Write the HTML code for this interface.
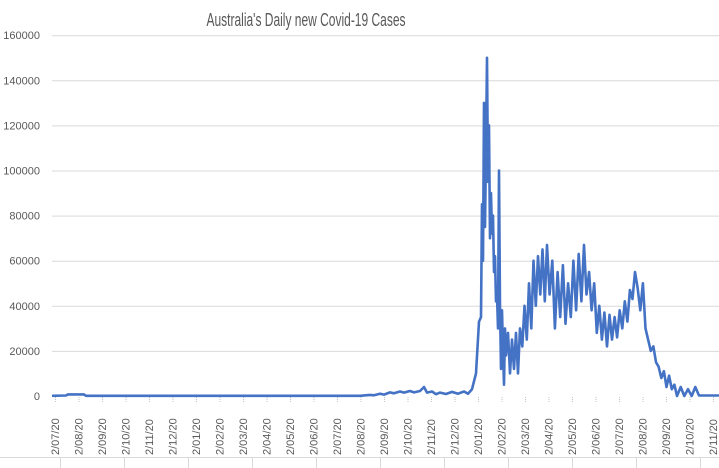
<!DOCTYPE html>
<html><head><meta charset="utf-8"><style>
html,body{margin:0;padding:0;background:#fff;width:719px;height:468px;overflow:hidden}
svg{display:block}
text{font-family:"Liberation Sans",sans-serif;fill:#595959}
</style></head><body>
<svg id="s" width="719" height="468" viewBox="0 0 719 468">
<text x="306" y="26" font-size="18" text-anchor="middle" textLength="199" lengthAdjust="spacingAndGlyphs">Australia's Daily new Covid-19 Cases</text>
<g id="grid" stroke="#d9d9d9" stroke-width="1"></g>
<g id="yl" font-size="11" text-anchor="end"></g>
<g id="xl" font-size="11"></g>
<line x1="0" y1="457.5" x2="719" y2="457.5" stroke="#d9d9d9"/>
<g id="sep" stroke="#d9d9d9"></g>
<path id="p" fill="none" stroke="#4472c4" stroke-width="2.6" stroke-linejoin="round"/>
</svg>
<script>
var NS="http://www.w3.org/2000/svg";
function el(t,a,p,txt){var e=document.createElementNS(NS,t);for(var k in a)e.setAttribute(k,a[k]);if(txt!=null)e.textContent=txt;document.getElementById(p).appendChild(e);return e;}
for(var i=0;i<=8;i++){var y=396-i*45.1;
 if(i>0)el("line",{x1:52,x2:719,y1:y+0.5,y2:y+0.5},"grid");
 el("text",{x:40,y:y+4},"yl",String(i*20000));}
var months=["07","08","09","10","11","12","01","02","03","04","05","06"];
for(var m=0;m<=28;m++){var x=55+m*23.5;
 el("text",{x:0,y:0,transform:"translate("+(x+4)+",455) rotate(-90)"},"xl","2/"+months[m%12]+"/20");
 el("line",{x1:x+0.5,x2:x+0.5,y1:397,y2:402,stroke:"#bfbfbf","stroke-dasharray":"1,1"},"grid");}
for(var x=60;x<719;x+=64)el("line",{x1:x+0.5,x2:x+0.5,y1:458,y2:468},"sep");
var pts=[[52,0.1],[66,0.2],[68,0.7],[84,0.7],[86,0.1],[360,0.1],[370,0.5],[374,0.3],[380,1],[384,0.6],[390,1.6],[394,1.2],[400,2],[404,1.5],[410,2.2],[414,1.6],[420,2.2],[424,4],[427,1.5],[432,2],[436,0.8],[440,1.5],[446,0.9],[452,1.8],[458,1],[464,2],[468,1],[472,3],[476,10],[479,33],[481,35],[482,85],[483,60],[484,130],[485,75],[486,110],[487,150],[488,95],[489,120],[490,70],[491,90],[492,72],[493,80],[494,55],[495,62],[496,42],[497,45],[498,30],[499,100],[500,40],[501,12],[502,38],[503,20],[504,5],[505,30],[506,18],[508,28],[510,10],[512,25],[514,12],[516,28],[518,10],[520,30],[522,22],[524,40],[526,25],[528,50],[530,30],[532,60],[534,40],[536,62],[538,45],[540,65],[542,42],[544,67],[546,45],[548,60],[550,30],[552,55],[554,35],[556,58],[558,32],[560,50],[562,35],[564,60],[566,38],[568,63],[570,42],[572,67],[574,45],[576,55],[578,38],[580,50],[582,28],[584,40],[586,25],[588,37],[590,22],[592,36],[594,25],[596,35],[598,26],[600,38],[602,30],[604,42],[606,33],[608,47],[610,43],[612,55],[614,48],[616,38],[618,50],[620,30],[622,25],[624,20],[626,22],[628,15],[630,13],[632,8],[634,11],[636,4],[638,9],[640,3],[642,5],[644,0],[646,4],[648,0],[650,3],[652,0],[654,4],[656,0.2],[719,0.2]];
var map=[[520,520],[544,547],[572,584],[612,635],[644,677],[656,699]];
function mx(x){if(x<=520)return x;if(x>=656)return Math.min(719,x+43);
 for(var i=0;i<map.length-1;i++){var a=map[i],b=map[i+1];if(x<=b[0])return a[1]+(x-a[0])*(b[1]-a[1])/(b[0]-a[0]);}return x;}
var d="";for(var i=0;i<pts.length;i++){var x=mx(pts[i][0]),v=pts[i][1];
 var y=396-v*45.1/20;d+=(i?"L":"M")+x.toFixed(1)+","+y.toFixed(1);}
document.getElementById("p").setAttribute("d",d);
</script>
</body></html>
